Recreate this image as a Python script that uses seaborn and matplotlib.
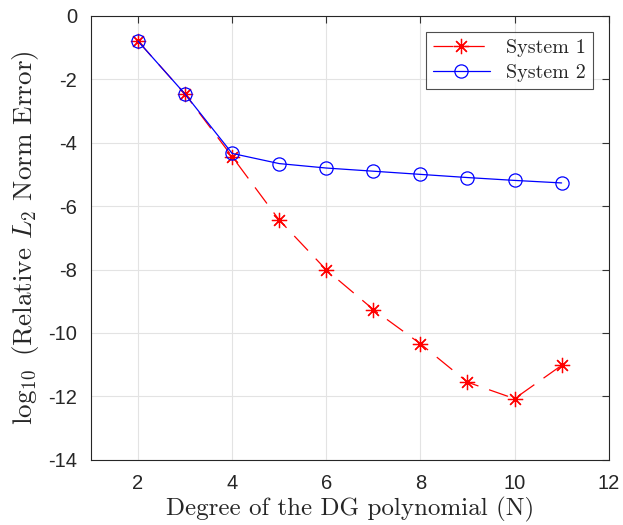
import numpy as np
import pandas as pd
import matplotlib
matplotlib.use("Agg")
import matplotlib.pyplot as plt
import seaborn as sns

# polynomial degree and log10 of relative L2 error
degree = [2, 3, 4, 5, 6, 7, 8, 9, 10, 11]
err_system1 = [-0.80, -2.47, -4.44, -6.44, -8.01, -9.26, -10.34, -11.55, -12.07, -11.02]
err_system2 = [-0.80, -2.47, -4.34, -4.66, -4.80, -4.90, -5.00, -5.10, -5.19, -5.27]

xticks = [2, 4, 6, 8, 10, 12]
yticks = [0, -2, -4, -6, -8, -10, -12, -14]

sns.set_style("white")
plt.rcParams['mathtext.fontset'] = 'cm'

fig = plt.figure(figsize=(6.23, 5.25), dpi=100)
ax = fig.add_axes([0.146, 0.124, 0.831, 0.846])

df1 = pd.DataFrame({"N": degree, "err": err_system1})
df2 = pd.DataFrame({"N": degree, "err": err_system2})

sns.lineplot(data=df1, x="N", y="err", ax=ax, color="red", linestyle=(0, (16, 9)),
             linewidth=0.9, marker=(8, 2, 0), markersize=11, markeredgewidth=0.9,
             markeredgecolor="red", label="System 1")
sns.lineplot(data=df2, x="N", y="err", ax=ax, color="blue", linestyle="-",
             linewidth=0.9, marker="o", markersize=9.5, markerfacecolor="none",
             markeredgewidth=0.9, markeredgecolor="blue", label="System 2")

ax.set_xlim(1, 12)
ax.set_ylim(-14, 0)
ax.set_xticks(xticks)
ax.set_yticks(yticks)
ax.set_xticklabels([str(t) for t in xticks], family="Liberation Sans", fontsize=14.5, color="#262626")
ax.set_yticklabels([str(t) for t in yticks], family="Liberation Sans", fontsize=14.5, color="#262626")

ax.grid(True, color="#e3e3e3", linewidth=0.8)
ax.tick_params(direction="in", top=True, right=True, length=5, width=0.8, color="#333333")
ax.tick_params(axis="x", pad=10)
ax.tick_params(axis="y", pad=10)
for sp in ax.spines.values():
    sp.set_color("#262626")
    sp.set_linewidth(0.8)

ax.set_xlabel("Degree of the DG polynomial (N)", family="cmr10", fontsize=18, labelpad=3)
ax.set_ylabel(r"$\log_{10}$ (Relative $L_2$ Norm Error)", family="cmr10", fontsize=19.5, labelpad=5)

leg = ax.legend(loc="upper right", prop={"family": "cmr10", "size": 14.5},
                frameon=True, fancybox=False, edgecolor="#222222",
                handlelength=2.8, borderpad=0.35, labelspacing=0.35, borderaxespad=0.8)
leg.get_frame().set_linewidth(0.8)

fig.savefig("out.png", dpi=100, facecolor="white")
